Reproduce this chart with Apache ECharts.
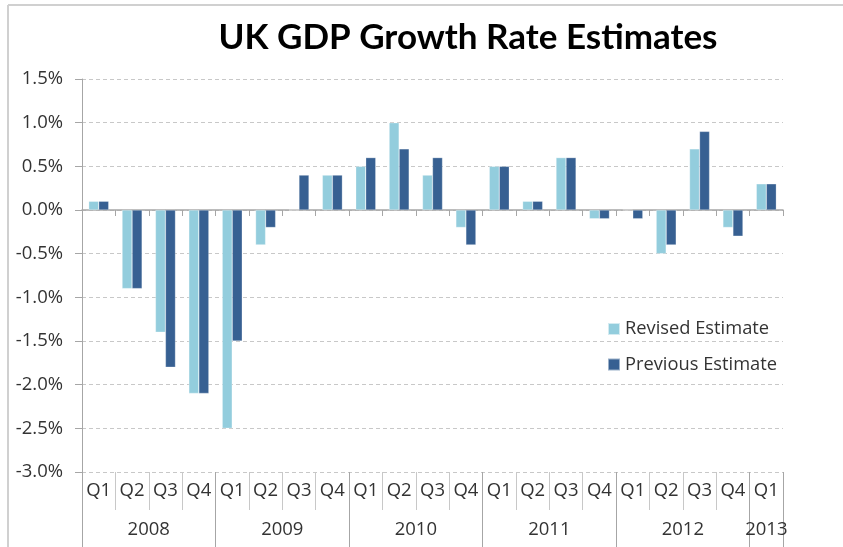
<!DOCTYPE html>
<html>
<head>
<meta charset="utf-8">
<script src="https://cdn.jsdelivr.net/npm/echarts@6/dist/echarts.min.js"></script>
<style>
  html, body { margin: 0; padding: 0; background: #fff; }
  #chart { width: 843px; height: 547px; }
</style>
</head>
<body>
<div id="chart"></div>
<script>
// Quarterly UK GDP growth, % change on previous quarter
const quarters = ['Q1','Q2','Q3','Q4','Q1','Q2','Q3','Q4','Q1','Q2','Q3','Q4',
                  'Q1','Q2','Q3','Q4','Q1','Q2','Q3','Q4','Q1'];
const years = ['2008','2009','2010','2011','2012','2013'];
const quartersPerYear = [4, 4, 4, 4, 4, 1];
const revisedEstimate = [0.1, -0.9, -1.4, -2.1, -2.5, -0.4, 0.0, 0.4, 0.5, 1.0, 0.4, -0.2,
                         0.5, 0.1, 0.6, -0.1, 0.0, -0.5, 0.7, -0.2, 0.3];
const previousEstimate = [0.1, -0.9, -1.8, -2.1, -1.5, -0.2, 0.4, 0.4, 0.6, 0.7, 0.6, -0.4,
                          0.5, 0.1, 0.6, -0.1, -0.1, -0.4, 0.9, -0.3, 0.3];
const yTicks = { min: -3.0, max: 1.5, step: 0.5 };

// Year row: a boundary-aligned axis at half-quarter resolution,
// so each year label sits at the middle of its span and the
// separators fall on the year boundaries.
const halfSlots = [];
for (let i = 0; i <= quarters.length * 2; i++) halfSlots.push(String(i));
const yearBoundaries = new Set([0]);
const yearCentre = {};
let q = 0;
years.forEach((y, i) => {
  const n = quartersPerYear[i];
  yearCentre[2 * q + n] = y;
  q += n;
  yearBoundaries.add(2 * q);
});

const titleFont = 'Lato, "DejaVu Sans", sans-serif';
const font = '"Open Sans", "DejaVu Sans", sans-serif';
const labelColor = '#333333';
const axisFontSize = 18.5;

const chart = echarts.init(document.getElementById('chart'), null, { renderer: 'canvas' });
chart.setOption({
  animation: false,
  backgroundColor: '#ffffff',
  title: {
    text: 'UK GDP Growth Rate Estimates',
    left: 463,
    textAlign: 'center',
    top: 15,
    textStyle: { fontFamily: titleFont, fontWeight: 'bold', fontSize: 35, color: '#000000' }
  },
  graphic: [
    { type: 'line', shape: { x1: 8, y1: 5, x2: 843, y2: 5 }, style: { stroke: '#d0d0d0', lineWidth: 2 }, silent: true },
    { type: 'line', shape: { x1: 8, y1: 5, x2: 8, y2: 547 }, style: { stroke: '#d0d0d0', lineWidth: 2 }, silent: true }
  ],
  legend: {
    orient: 'vertical',
    left: 607,
    top: 320,
    padding: 0,
    itemWidth: 12,
    itemHeight: 12,
    itemGap: 17.5,
    icon: 'rect',
    textStyle: { fontFamily: font, fontSize: 18.3, color: labelColor, padding: [0, 0, 0, 0] },
    data: ['Revised Estimate', 'Previous Estimate']
  },
  grid: { left: 82, right: 60, top: 79, bottom: 75, containLabel: false },
  yAxis: {
    type: 'value',
    min: yTicks.min,
    max: yTicks.max,
    interval: yTicks.step,
    axisLine: { show: true, lineStyle: { color: '#a6a6a6', width: 1 } },
    axisTick: { show: true, length: 7, lineStyle: { color: '#a6a6a6' } },
    axisLabel: {
      fontFamily: font, fontSize: axisFontSize, color: labelColor, margin: 19,
      formatter: v => v.toFixed(1) + '%'
    },
    splitLine: { show: true, lineStyle: { color: '#c8c8c8', type: [4, 3], width: 1 } }
  },
  xAxis: [
    {
      // zero line with tick marks between quarters
      type: 'category',
      data: quarters,
      position: 'bottom',
      axisLine: { show: true, onZero: true, lineStyle: { color: '#a6a6a6', width: 1.5 } },
      axisTick: { show: true, length: 6, interval: 0, lineStyle: { color: '#a6a6a6' } },
      axisLabel: { show: false },
      splitLine: { show: false }
    },
    {
      // quarter labels row
      type: 'category',
      data: quarters,
      position: 'bottom',
      axisLine: { show: false, onZero: false },
      axisTick: { show: true, length: 38, interval: 0, lineStyle: { color: '#c8c8c8' } },
      axisLabel: { interval: 0, fontFamily: font, fontSize: axisFontSize, color: labelColor, margin: 9.5 },
      splitLine: { show: false }
    },
    {
      // year labels row
      type: 'category',
      data: halfSlots,
      boundaryGap: false,
      position: 'bottom',
      axisLine: { show: false, onZero: false },
      axisTick: {
        show: true, length: 80,
        interval: (i) => yearBoundaries.has(i),
        lineStyle: { color: '#a6a6a6' }
      },
      axisLabel: {
        interval: (i) => yearCentre[i] !== undefined,
        formatter: (v, i) => yearCentre[i] || '',
        fontFamily: font, fontSize: axisFontSize, color: labelColor, margin: 48.5
      },
      splitLine: { show: false }
    }
  ],
  series: [
    {
      name: 'Revised Estimate',
      type: 'bar',
      xAxisIndex: 0,
      data: revisedEstimate,
      barGap: '0%',
      barCategoryGap: '40%',
      itemStyle: { color: '#93cddd', borderColor: 'rgba(255,255,255,0.6)', borderWidth: 0.5 }
    },
    {
      name: 'Previous Estimate',
      type: 'bar',
      xAxisIndex: 0,
      data: previousEstimate,
      itemStyle: { color: '#376092', borderColor: 'rgba(255,255,255,0.5)', borderWidth: 0.5 }
    }
  ]
});
</script>
</body>
</html>
